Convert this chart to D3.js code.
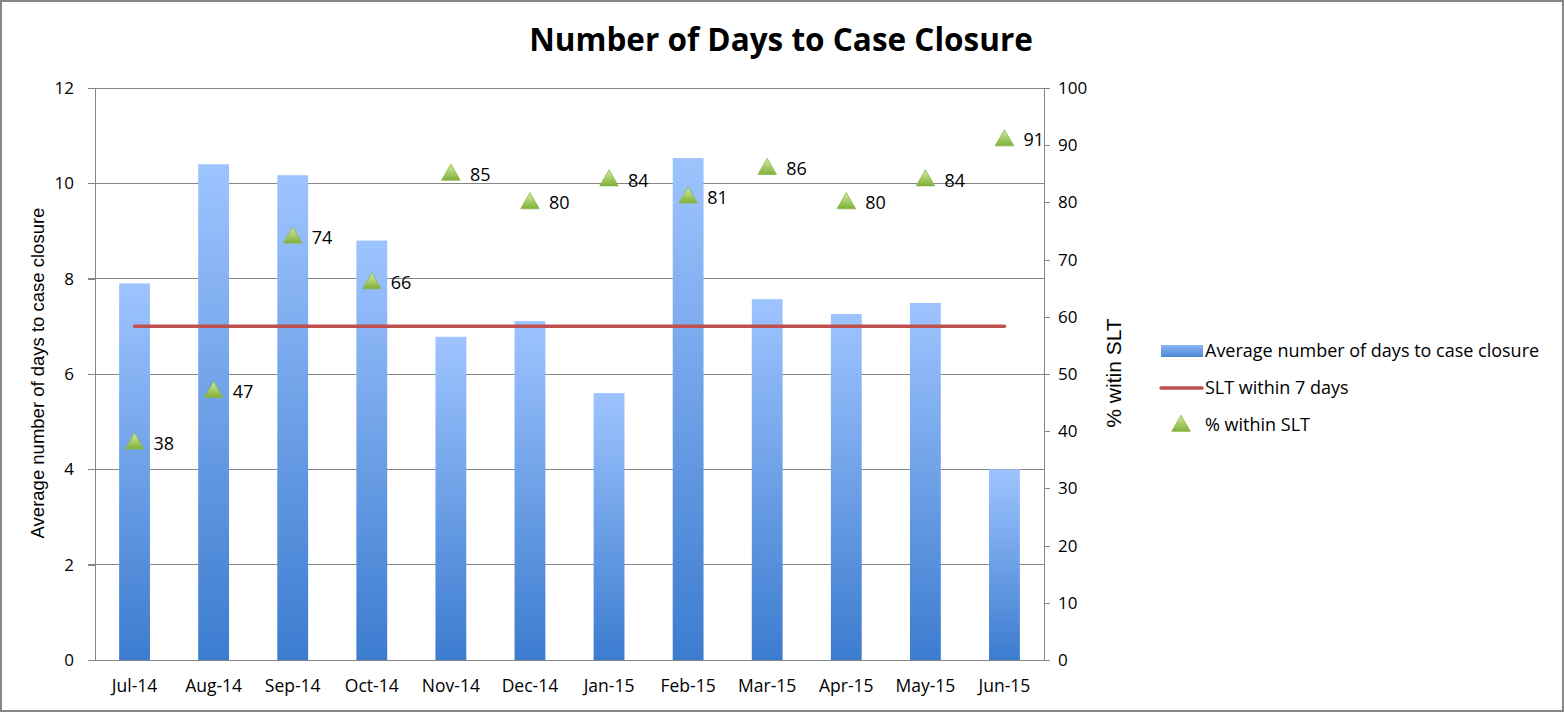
<!DOCTYPE html>
<html><head><meta charset="utf-8">
<script src="https://cdn.jsdelivr.net/npm/d3@7"></script>
<style>body{margin:0;background:#fff}svg{display:block}</style>
</head><body><svg id="c" width="1564" height="713"></svg>
<script>
const months = ["Jul-14","Aug-14","Sep-14","Oct-14","Nov-14","Dec-14","Jan-15","Feb-15","Mar-15","Apr-15","May-15","Jun-15"];
const avgDays = [7.9,10.4,10.17,8.8,6.78,7.11,5.6,10.53,7.57,7.26,7.49,4.0];
const sltTarget = [7,7,7,7,7,7,7,7,7,7,7,7];
const pctWithin = [38,47,74,66,85,80,84,81,86,80,84,91];
const leftTicks = [0,2,4,6,8,10,12];
const rightTicks = [0,10,20,30,40,50,60,70,80,90,100];

const svg = d3.select("#c");
const W=1564,H=713;
const m={l:95,r:1044,t:88,b:660};
const font="'Open Sans', 'Liberation Sans', sans-serif";

svg.append("rect").attr("x",1).attr("y",1).attr("width",W-2).attr("height",H-3)
  .attr("fill","#fff").attr("stroke","#868686").attr("stroke-width",2);

const defs=svg.append("defs");
const g1=defs.append("linearGradient").attr("id","barG").attr("x1",0).attr("y1",0).attr("x2",0).attr("y2",1);
g1.append("stop").attr("offset","0%").attr("stop-color","#9EC4FF");
g1.append("stop").attr("offset","100%").attr("stop-color","#3C7CCF");
const g2=defs.append("linearGradient").attr("id","triG").attr("x1",0).attr("y1",0).attr("x2",0).attr("y2",1);
g2.append("stop").attr("offset","0%").attr("stop-color","#D4EDA0");
g2.append("stop").attr("offset","100%").attr("stop-color","#7FAF3A");
const lg=defs.append("linearGradient").attr("id","legG").attr("x1",0).attr("y1",0).attr("x2",0).attr("y2",1);
lg.append("stop").attr("offset","0%").attr("stop-color","#8DB6F2");
lg.append("stop").attr("offset","100%").attr("stop-color","#4A86D6");

const x=d3.scaleBand().domain(months).range([m.l,m.r]).paddingInner(0.61).paddingOuter(0.305);
const xc=d3.scalePoint().domain(months).range([m.l,m.r]).padding(0.5);
const yL=d3.scaleLinear().domain([0,12]).range([m.b,m.t]);
const yR=d3.scaleLinear().domain([0,100]).range([m.b,m.t]);

// gridlines
svg.append("g").selectAll("line").data(leftTicks).join("line")
  .attr("x1",m.l-7).attr("x2",m.r).attr("y1",d=>yL(d)).attr("y2",d=>yL(d))
  .attr("stroke","#868686").attr("stroke-width",1).attr("shape-rendering","crispEdges");

// axes
const axL=svg.append("g").attr("transform",`translate(${m.l},0)`)
  .call(d3.axisLeft(yL).tickValues(leftTicks).tickSize(7).tickPadding(14));
const axR=svg.append("g").attr("transform",`translate(${m.r},0)`)
  .call(d3.axisRight(yR).tickValues(rightTicks).tickSize(6).tickPadding(8));
const axB=svg.append("g").attr("transform",`translate(0,${m.b})`)
  .call(d3.axisBottom(x).tickSize(0).tickPadding(20));
[axL,axR,axB].forEach(a=>{
  a.selectAll("path,line").attr("stroke","#868686").attr("shape-rendering","crispEdges");
  a.selectAll("text").attr("font-family",font).attr("font-size",17).attr("fill","#000");
});
axB.selectAll("text").attr("font-size",17.5);
axB.select("path").attr("d",`M${m.l-7},0.5H${m.r}`);

// bars
svg.append("g").selectAll("rect").data(avgDays).join("rect")
  .attr("x",(d,i)=>x(months[i])).attr("width",x.bandwidth())
  .attr("y",d=>yL(d)).attr("height",d=>m.b-yL(d))
  .attr("fill","url(#barG)");

// SLT line
svg.append("path").datum(sltTarget)
  .attr("d",d3.line().x((d,i)=>xc(months[i])).y(d=>yL(d)))
  .attr("fill","none").attr("stroke","#C0504D").attr("stroke-width",3.5).attr("stroke-linecap","round");

// triangles
const tri=d3.symbol().type(d3.symbolTriangle).size(150);
const tg=svg.append("g");
tg.selectAll("path").data(pctWithin).join("path")
  .attr("d",tri).attr("transform",(d,i)=>`translate(${xc(months[i])},${yR(d)+1})`)
  .attr("fill","url(#triG)").attr("stroke","#8DB84A").attr("stroke-width",0.8);
tg.selectAll("text").data(pctWithin).join("text")
  .attr("x",(d,i)=>xc(months[i])+19).attr("y",d=>yR(d)+7)
  .attr("font-family",font).attr("font-size",18).attr("fill","#000").text(d=>d);

// title
svg.append("text").attr("x",781).attr("y",51).attr("text-anchor","middle")
  .attr("font-family",font).attr("font-weight","bold").attr("font-size",31.5).attr("fill","#000")
  .text("Number of Days to Case Closure");

// axis titles
svg.append("text").attr("transform",`translate(44,373) rotate(-90)`).attr("text-anchor","middle")
  .attr("font-family","'Liberation Sans', Arial, sans-serif").attr("font-size",18.5).text("Average number of days to case closure");
svg.append("text").attr("transform",`translate(1121,373) rotate(-90)`).attr("text-anchor","middle")
  .attr("font-family","'Liberation Sans', Arial, sans-serif").attr("font-size",21).text("% witin SLT");

// legend
const leg=svg.append("g");
leg.append("rect").attr("x",1161).attr("y",345).attr("width",42).attr("height",12).attr("fill","url(#legG)");
leg.append("line").attr("x1",1161).attr("x2",1202).attr("y1",388).attr("y2",388).attr("stroke","#C0504D").attr("stroke-width",3.5).attr("stroke-linecap","round");
leg.append("path").attr("d",tri).attr("transform","translate(1181,426)").attr("fill","url(#triG)").attr("stroke","#8DB84A").attr("stroke-width",0.8);
const legTexts=["Average number of days to case closure","SLT within 7 days","% within SLT"];
leg.selectAll("text").data(legTexts).join("text")
  .attr("x",1205).attr("y",(d,i)=>357+i*37)
  .attr("font-family",font).attr("font-size",18).attr("fill","#000").text(d=>d);
</script></body></html>
